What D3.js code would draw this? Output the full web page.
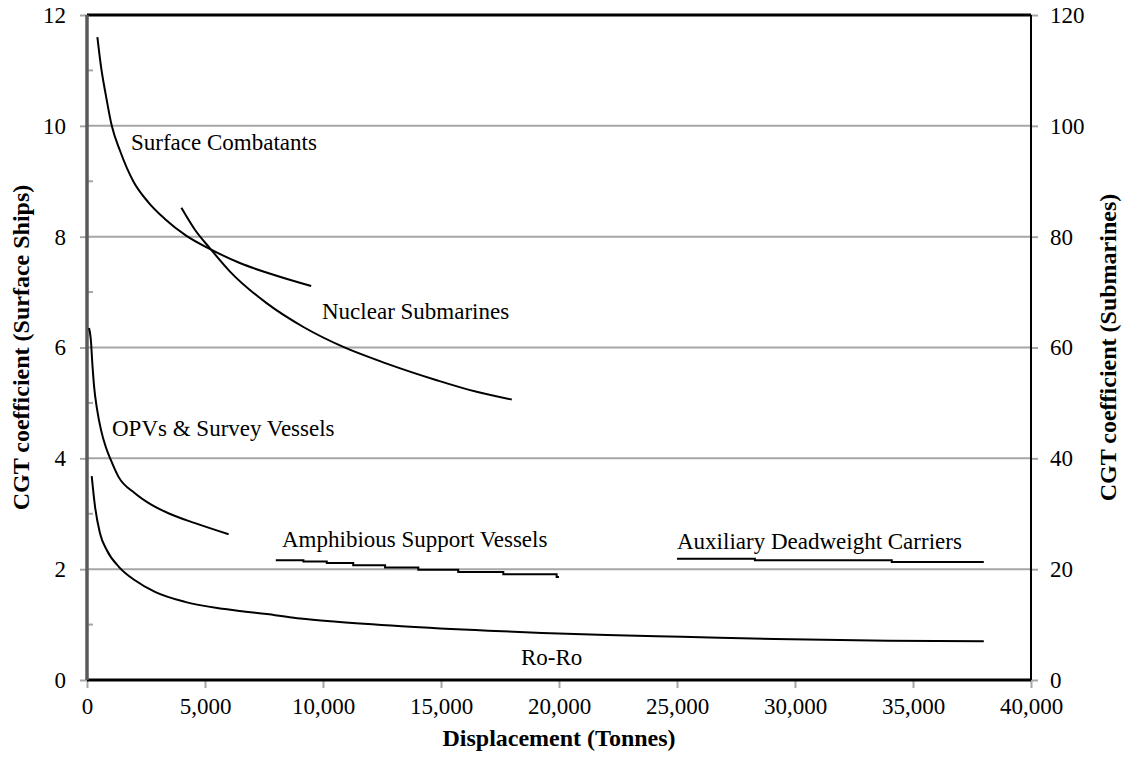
<!DOCTYPE html>
<html>
<head>
<meta charset="utf-8">
<script src="https://cdn.jsdelivr.net/npm/d3@7"></script>
<style>
  body { margin: 0; background: #fff; }
  svg text { font-family: "Liberation Serif", "Times New Roman", serif; fill: #000; }
  .line { fill: none; stroke: #000; stroke-width: 2; }
</style>
</head>
<body>
<div id="chart"></div>
<script>
// ---- data ----
var surfaceX = [440, 600, 800, 1050, 1400, 1960, 2600, 3300, 4200, 5200, 6500, 8000, 9500];
var surfaceY = [11.6, 11.05, 10.55, 10.0, 9.55, 9.0, 8.62, 8.32, 8.02, 7.78, 7.52, 7.30, 7.11];

// submarines are on the right axis (0-120)
var nuclearX = [4000, 4580, 5210, 6060, 7610, 9170, 10860, 12700, 14820, 16510, 18000];
var nuclearY = [85.2, 81.2, 77.9, 73.7, 68.0, 63.7, 60.1, 57.1, 54.1, 52.0, 50.6];

var opvX = [85, 170, 220, 300, 420, 600, 800, 1000, 1330, 2030, 2740, 3500, 4580, 6000];
var opvY = [6.35, 6.1, 5.75, 5.3, 4.9, 4.5, 4.2, 3.98, 3.67, 3.37, 3.16, 3.0, 2.83, 2.63];

var roroX = [200, 340, 550, 830, 1400, 2030, 2880, 4150, 5850, 7970, 9030, 10580, 13330, 17000, 19280, 22030, 25200, 29150, 33960, 38000];
var roroY = [3.68, 3.13, 2.65, 2.35, 2.02, 1.80, 1.59, 1.41, 1.28, 1.17, 1.11, 1.05, 0.97, 0.89, 0.85, 0.81, 0.78, 0.74, 0.71, 0.70];

var amphibX = [8000, 9170, 10160, 11280, 12630, 14040, 15730, 17640, 19900, 20000];
var amphibY = [2.16, 2.14, 2.11, 2.07, 2.03, 1.99, 1.95, 1.91, 1.86, 1.86];

var auxX = [25000, 28300, 34100, 38000];
var auxY = [2.19, 2.16, 2.13, 2.13];

var xTicks = [0, 5000, 10000, 15000, 20000, 25000, 30000, 35000, 40000];
var leftTicks = [0, 2, 4, 6, 8, 10, 12];
var leftMinor = [1, 3, 5, 7, 9, 11];
var rightTicks = [0, 20, 40, 60, 80, 100, 120];

function zip(xs, ys) {
    return xs.map(function (x, i) { return [x, ys[i]]; });
}

var W = 1126, H = 759;
var margin = { top: 15, right: 95, bottom: 79, left: 87 },
    width = W - margin.left - margin.right,
    height = H - margin.top - margin.bottom;

var svg = d3.select("#chart").append("svg")
    .attr("width", W)
    .attr("height", H);

var g = svg.append("g")
    .attr("transform", "translate(" + margin.left + "," + margin.top + ")");

var x = d3.scaleLinear().domain([0, 40000]).range([0, width]);
var yL = d3.scaleLinear().domain([0, 12]).range([height, 0]);
var yR = d3.scaleLinear().domain([0, 120]).range([height, 0]);

// gridlines
g.append("g")
    .selectAll("line")
    .data(leftTicks.filter(function (d) { return d > 0; }))
    .enter().append("line")
    .attr("x1", 0).attr("x2", width)
    .attr("y1", function (d) { return yL(d); })
    .attr("y2", function (d) { return yL(d); })
    .attr("stroke", "#a6a6a6")
    .attr("stroke-width", 2);

// minor ticks (inside, left)
g.append("g")
    .selectAll("line")
    .data(leftMinor)
    .enter().append("line")
    .attr("x1", 0).attr("x2", 6)
    .attr("y1", function (d) { return yL(d); })
    .attr("y2", function (d) { return yL(d); })
    .attr("stroke", "#a6a6a6")
    .attr("stroke-width", 2);

// axis-x
var xAxis = g.append("g")
    .attr("transform", "translate(0," + height + ")")
    .call(d3.axisBottom(x).tickValues(xTicks).tickSize(8).tickPadding(10)
        .tickFormat(d3.format(",")));

// axis-y left
var yAxisL = g.append("g")
    .call(d3.axisLeft(yL).tickValues(leftTicks).tickSize(7).tickPadding(14));

// axis-y right
var yAxisR = g.append("g")
    .attr("transform", "translate(" + width + ",0)")
    .call(d3.axisRight(yR).tickValues(rightTicks).tickSize(7).tickPadding(12));

[xAxis, yAxisL, yAxisR].forEach(function (a) {
    a.select(".domain").remove();
    a.selectAll(".tick line").attr("stroke", "#a6a6a6").attr("stroke-width", 2);
    a.selectAll(".tick text")
        .style("font-family", "'Liberation Serif', serif")
        .style("font-size", "23px")
        .attr("fill", "#000");
});

// frame
g.append("line").attr("x1", 0).attr("x2", width).attr("y1", 0).attr("y2", 0)
    .attr("stroke", "#000").attr("stroke-width", 3);
g.append("line").attr("x1", 0).attr("x2", width).attr("y1", height).attr("y2", height)
    .attr("stroke", "#000").attr("stroke-width", 3);
g.append("line").attr("x1", width).attr("x2", width).attr("y1", 0).attr("y2", height)
    .attr("stroke", "#000").attr("stroke-width", 2);
g.append("line").attr("x1", 0).attr("x2", 0).attr("y1", 0).attr("y2", height)
    .attr("stroke", "#5a5a5a").attr("stroke-width", 3.5);

// curves
var lineL = d3.line()
    .x(function (d) { return x(d[0]); })
    .y(function (d) { return yL(d[1]); })
    .curve(d3.curveMonotoneX);
var lineR = d3.line()
    .x(function (d) { return x(d[0]); })
    .y(function (d) { return yR(d[1]); })
    .curve(d3.curveMonotoneX);
var stepL = d3.line()
    .x(function (d) { return x(d[0]); })
    .y(function (d) { return yL(d[1]); })
    .curve(d3.curveStepAfter);

g.append("path").attr("class", "line").attr("d", lineL(zip(surfaceX, surfaceY)));
g.append("path").attr("class", "line").attr("d", lineR(zip(nuclearX, nuclearY)));
g.append("path").attr("class", "line").attr("d", lineL(zip(opvX, opvY)));
g.append("path").attr("class", "line").attr("d", lineL(zip(roroX, roroY)));
g.append("path").attr("class", "line").attr("d", stepL(zip(amphibX, amphibY)));
g.append("path").attr("class", "line").attr("d", stepL(zip(auxX, auxY)));

// series labels
var labels = [
    ["Surface Combatants", 131, 150],
    ["Nuclear Submarines", 322, 319],
    ["OPVs & Survey Vessels", 112, 436],
    ["Amphibious Support Vessels", 282, 547],
    ["Auxiliary Deadweight Carriers", 677, 549],
    ["Ro-Ro", 521, 665]
];
svg.selectAll("text.lbl")
    .data(labels)
    .enter().append("text")
    .attr("class", "lbl")
    .attr("x", function (d) { return d[1]; })
    .attr("y", function (d) { return d[2]; })
    .style("font-size", "23px")
    .text(function (d) { return d[0]; });

// axis titles
svg.append("text")
    .attr("x", margin.left + width / 2)
    .attr("y", 746)
    .attr("text-anchor", "middle")
    .style("font-size", "24px")
    .style("font-weight", "bold")
    .text("Displacement (Tonnes)");

svg.append("text")
    .attr("text-anchor", "middle")
    .attr("transform", "translate(29," + (margin.top + height / 2) + ") rotate(-90)")
    .style("font-size", "24px")
    .style("font-weight", "bold")
    .text("CGT coefficient  (Surface Ships)");

svg.append("text")
    .attr("text-anchor", "middle")
    .attr("transform", "translate(1116," + (margin.top + height / 2) + ") rotate(-90)")
    .style("font-size", "24px")
    .style("font-weight", "bold")
    .text("CGT coefficient  (Submarines)");
</script>
</body>
</html>
